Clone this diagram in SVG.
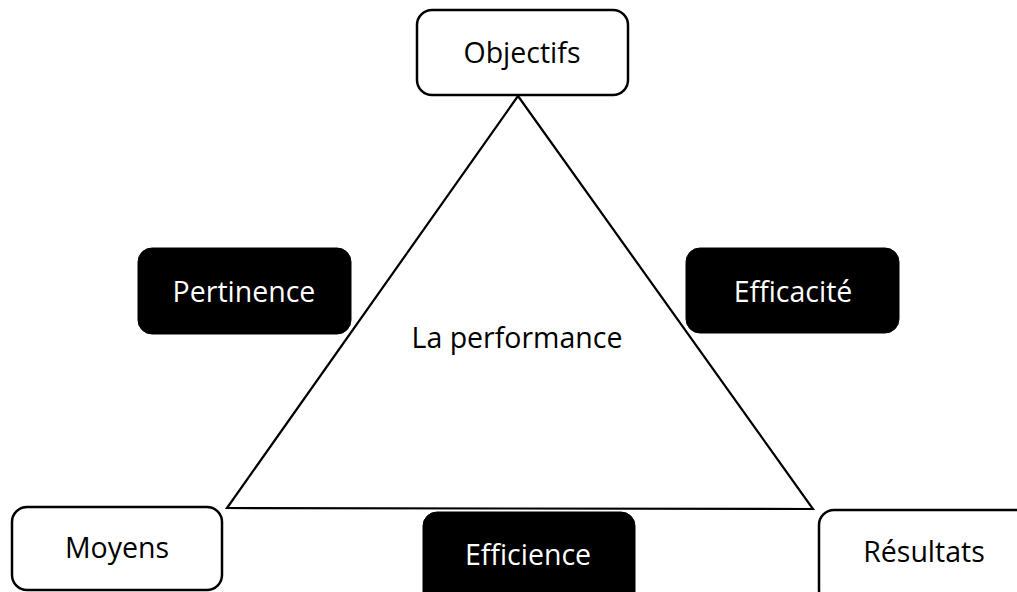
<svg xmlns="http://www.w3.org/2000/svg" width="1017" height="592" viewBox="0 0 1017 592">
<style>
.w{fill:#ffffff;stroke:#000000;stroke-width:2.5}
.b{fill:#000000;stroke:#000000;stroke-width:1}
.t{font-family:"Open Sans","Liberation Sans",sans-serif;font-size:28.5px;text-anchor:middle}
.tw{fill:#ffffff}
.tb{fill:#000000}
.edge{stroke:#000000;stroke-width:2.2;fill:none;stroke-linejoin:miter}
</style>
<rect width="1017" height="592" fill="#ffffff"/>
<g id="connectors">
<path class="edge" d="M518,96 L227,508 L813,509 Z"/>
</g>
<g id="performance">
<text class="t tb" x="517" y="348">La performance</text>
</g>
<g id="objectifs">
<rect class="w" x="417" y="10" width="211" height="85" rx="15"/>
<text class="t tb" x="522" y="63">Objectifs</text>
</g>
<g id="pertinence">
<rect class="b" x="138" y="248" width="213" height="86" rx="14"/>
<text class="t tw" x="244" y="302">Pertinence</text>
</g>
<g id="efficacite">
<rect class="b" x="686" y="248" width="213" height="85" rx="14"/>
<text class="t tw" x="793" y="302">Efficacité</text>
</g>
<g id="moyens">
<rect class="w" x="12" y="507" width="210" height="83" rx="15"/>
<text class="t tb" x="117" y="558">Moyens</text>
</g>
<g id="efficience">
<rect class="b" x="423" y="512" width="212" height="95" rx="14"/>
<text class="t tw" x="528" y="565">Efficience</text>
</g>
<g id="resultats">
<rect class="w" x="819" y="510" width="220" height="95" rx="15"/>
<text class="t tb" x="924" y="562">Résultats</text>
</g>
</svg>
